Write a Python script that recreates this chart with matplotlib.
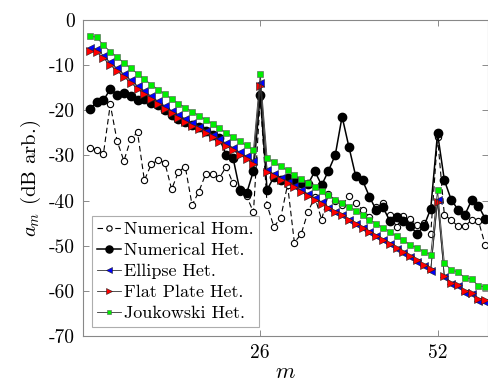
import matplotlib
matplotlib.use("Agg")
import matplotlib.pyplot as plt
import numpy as np

plt.rcParams['font.family'] = ['cmr10', 'DejaVu Serif']
plt.rcParams['mathtext.fontset'] = 'cm'
plt.rcParams['axes.unicode_minus'] = False
plt.rcParams['axes.formatter.use_mathtext'] = True

m = list(range(1, 60))

num_hom = [-28.3, -28.7, -29.6, -18.7, -26.8, -31.2, -26.4, -24.9, -35.5, -32.0,
           -31.0, -31.6, -37.5, -33.6, -32.5, -41.0, -38.0, -34.1, -34.2, -35.0,
           -32.5, -36.2, -38.0, -39.0, -42.6, -17.0, -41.0, -45.8, -43.8, -36.5,
           -49.3, -47.4, -42.5, -39.2, -44.2, -38.5, -40.0, -41.0, -39.0, -40.5,
           -42.0, -43.6, -41.5, -40.6, -43.2, -45.8, -43.4, -44.0, -45.5, -45.0,
           -47.3, -26.0, -43.2, -44.3, -45.7, -45.7, -44.3, -44.5, -49.9]

num_het = [-19.7, -18.2, -17.8, -15.3, -16.6, -16.1, -16.9, -17.7, -17.4, -18.3,
           -18.8, -20.0, -21.0, -22.0, -22.7, -23.2, -23.7, -24.6, -25.4, -26.2,
           -29.9, -30.5, -37.7, -38.4, -33.4, -16.6, -37.7, -34.7, -35.4, -35.0,
           -35.5, -36.0, -36.4, -33.5, -36.6, -33.4, -29.9, -21.4, -28.1, -34.6,
           -35.5, -39.1, -42.1, -41.5, -44.5, -43.6, -44.5, -45.7, -47.3, -45.7,
           -41.8, -25.1, -35.5, -39.8, -42.0, -43.2, -39.9, -41.2, -44.0]

ellipse = [-6.3, -6.5, -7.9, -9.4, -10.7, -12.0, -13.3, -14.6, -15.7, -16.9,
           -18.0, -19.1, -20.1, -21.0, -21.9, -22.8, -23.6, -24.5, -25.4, -26.4,
           -27.3, -28.3, -29.3, -30.2, -31.2, -13.9, -33.2, -34.1, -35.0, -35.8,
           -36.7, -37.6, -38.5, -39.4, -40.3, -41.6, -42.5, -43.3, -44.2, -45.1,
           -46.0, -46.9, -47.8, -48.7, -49.6, -50.8, -51.7, -52.6, -53.5, -54.5,
           -55.5, -39.9, -57.0, -58.5, -58.9, -60.4, -60.7, -62.2, -62.4]

flat_plate = [-6.9, -7.1, -8.5, -10.0, -11.3, -12.6, -13.9, -15.2, -16.3, -17.5,
              -18.6, -19.7, -20.7, -21.6, -22.5, -23.4, -24.2, -25.1, -26.0, -27.0,
              -27.9, -28.9, -29.9, -30.8, -31.8, -14.6, -33.6, -34.5, -35.4, -36.2,
              -37.1, -38.0, -38.9, -39.8, -40.7, -41.6, -42.5, -43.3, -44.2, -45.1,
              -46.0, -46.9, -47.8, -48.7, -49.6, -50.5, -51.4, -52.3, -53.2, -54.2,
              -55.2, -40.4, -56.7, -58.2, -58.6, -60.1, -60.4, -61.9, -62.1]

joukowski = [-3.6, -3.8, -5.6, -7.0, -8.2, -9.5, -10.7, -11.9, -13.1, -14.3,
             -15.4, -16.4, -17.5, -18.5, -19.4, -20.3, -21.2, -22.1, -23.0, -24.0,
             -25.0, -25.9, -26.9, -27.8, -28.8, -12.0, -30.5, -31.5, -32.4, -33.3,
             -34.4, -35.2, -36.0, -37.0, -37.9, -38.8, -39.8, -40.5, -41.4, -42.2,
             -43.2, -44.2, -45.1, -46.0, -46.9, -47.9, -48.8, -49.8, -50.5, -51.3,
             -52.0, -37.7, -53.8, -55.4, -55.8, -57.1, -57.4, -58.9, -59.1]

yticks = [0, -10, -20, -30, -40, -50, -60, -70]
xticks = [26, 52]

fig = plt.figure(figsize=(4.89, 3.83), dpi=100)
ax = fig.add_axes([83/489, 1-336/383, 405/489, 316/383])

ax.plot(m, num_hom, ls=(0, (5, 3)), color='black', lw=0.8, marker='o', ms=4.5,
        mfc='white', mec='black', mew=0.8, label='Numerical Hom.')
ax.plot(m, num_het, ls='-', color='black', lw=1.1, marker='o', ms=6.0,
        mfc='black', mec='black', label='Numerical Het.')
ax.plot(m, ellipse, ls='-', color='#333333', lw=0.6, marker='<', ms=5.5,
        mfc='blue', mec='#222222', mew=0.4, label='Ellipse Het.')
ax.plot(m, flat_plate, ls='-', color='#333333', lw=0.6, marker='>', ms=5.5,
        mfc='red', mec='#222222', mew=0.4, label='Flat Plate Het.')
ax.plot(m, joukowski, ls='-', color='#333333', lw=0.6, marker='s', ms=4.2,
        mfc='#00ee00', mec='#555555', mew=0.4, label='Joukowski Het.')

ax.set_xlim(0, 59.4)
ax.set_ylim(-70, 0)
ax.set_xticks(xticks)
ax.set_xticklabels([str(t) for t in xticks])
ax.set_yticks(yticks)
ax.set_yticklabels([str(t) for t in yticks])
ax.tick_params(direction='in', length=4, width=0.6, color='#777777',
               labelsize=14, top=True, right=True, pad=6)
for s in ax.spines.values():
    s.set_color('#888888')
    s.set_linewidth(0.8)

ax.set_xlabel('$m$', fontsize=16, labelpad=0)
ax.set_ylabel('$a_m$ (dB arb.)', fontsize=15, labelpad=4)

leg = ax.legend(loc='lower left', bbox_to_anchor=(0.022, 0.029), fontsize=13,
                frameon=True, fancybox=False, edgecolor='#999999',
                handlelength=1.3, handletextpad=0.2, borderpad=0.3,
                labelspacing=0.3, borderaxespad=0, markerscale=0.85)
leg.get_frame().set_linewidth(0.8)

fig.savefig('out.png', dpi=100)
